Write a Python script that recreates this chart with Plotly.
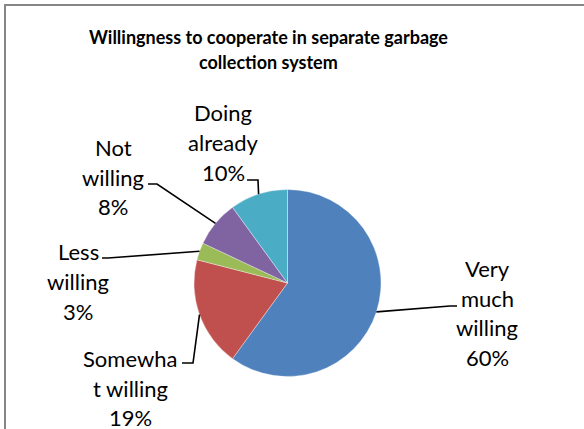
import math
import plotly.graph_objects as go

# ---- data ----
categories = ["Very much willing", "Somewhat willing", "Less willing", "Not willing", "Doing already"]
values = [60, 19, 3, 8, 10]
label_lines = [["Very", "much", "willing"], ["Somewha", "t willing"], ["Less", "willing"],
               ["Not", "willing"], ["Doing", "already"]]
colors = ["#4F81BD", "#C0504D", "#9BBB59", "#8064A2", "#4BACC6"]
title_lines = ["Willingness to cooperate in separate garbage", "collection system"]

# ---- layout geometry (pixels) ----
W, H = 584, 429
cx, cy, r = 287.5, 283.0, 93.5
LINE_H = 29.7
# label block centres and leader-line elbows (layout positions)
label_pos = [(487, 313), (130, 388), (78, 281.5), (113, 177), (223, 142.5)]
elbows = [[(450, 306), (457, 306)],
          [(193, 363), (182, 363)],
          [(108, 258), (102, 258)],
          [(157, 184), (148, 184)],
          [(258, 180), (247, 180)]]

FONT = "Lato, 'Open Sans', sans-serif"

fig = go.Figure()
fig.add_trace(go.Pie(
    labels=categories, values=values, sort=False, direction="clockwise", rotation=0,
    marker=dict(colors=colors, line=dict(color="rgba(255,255,255,0.6)", width=0.6)),
    textinfo="none", hoverinfo="label+percent", showlegend=False,
    domain=dict(x=[(cx - r) / W, (cx + r) / W], y=[(H - cy - r) / H, (H - cy + r) / H]),
))

total = sum(values)
cum = 0
shapes = []
annotations = []
for i, v in enumerate(values):
    mid = (cum + v / 2) / total * 2 * math.pi
    cum += v
    ax = cx + r * math.sin(mid)
    ay = cy - r * math.cos(mid)
    pts = [(ax, ay)] + elbows[i]
    path = "M " + " L ".join(f"{x:.1f},{y:.1f}" for x, y in pts)
    shapes.append(dict(type="path", path=path, xref="x", yref="y",
                       line=dict(color="black", width=1.6)))
    pct = round(v / total * 100)
    lines = label_lines[i] + [f"{pct}%"]
    n = len(lines)
    for j, t in enumerate(lines):
        annotations.append(dict(x=label_pos[i][0], y=label_pos[i][1] + (j - (n - 1) / 2) * LINE_H,
                                xref="x", yref="y", text=t, showarrow=False,
                                font=dict(family=FONT, size=22, color="#000000"),
                                xanchor="center", yanchor="middle"))

for j, t in enumerate(title_lines):
    annotations.append(dict(x=268, y=37 + 25 * j, xref="x", yref="y", text=f"<b>{t}</b>",
                            showarrow=False, font=dict(family=FONT, size=18, color="#000000"),
                            xanchor="center", yanchor="middle"))

# chart-area border (top and left edges visible)
shapes.append(dict(type="line", xref="x", yref="y", x0=4, y0=5, x1=W, y1=5,
                   line=dict(color="#868686", width=2)))
shapes.append(dict(type="line", xref="x", yref="y", x0=5, y0=4, x1=5, y1=H,
                   line=dict(color="#868686", width=2)))

fig.update_layout(
    width=W, height=H, margin=dict(l=0, r=0, t=0, b=0),
    paper_bgcolor="white", plot_bgcolor="rgba(0,0,0,0)",
    xaxis=dict(range=[0, W], visible=False, fixedrange=True),
    yaxis=dict(range=[H, 0], visible=False, fixedrange=True),
    shapes=shapes, annotations=annotations,
)

fig.write_html("out.html", config={"displayModeBar": False},
               post_script="document.body.style.margin='0';document.body.style.overflow='hidden';")
